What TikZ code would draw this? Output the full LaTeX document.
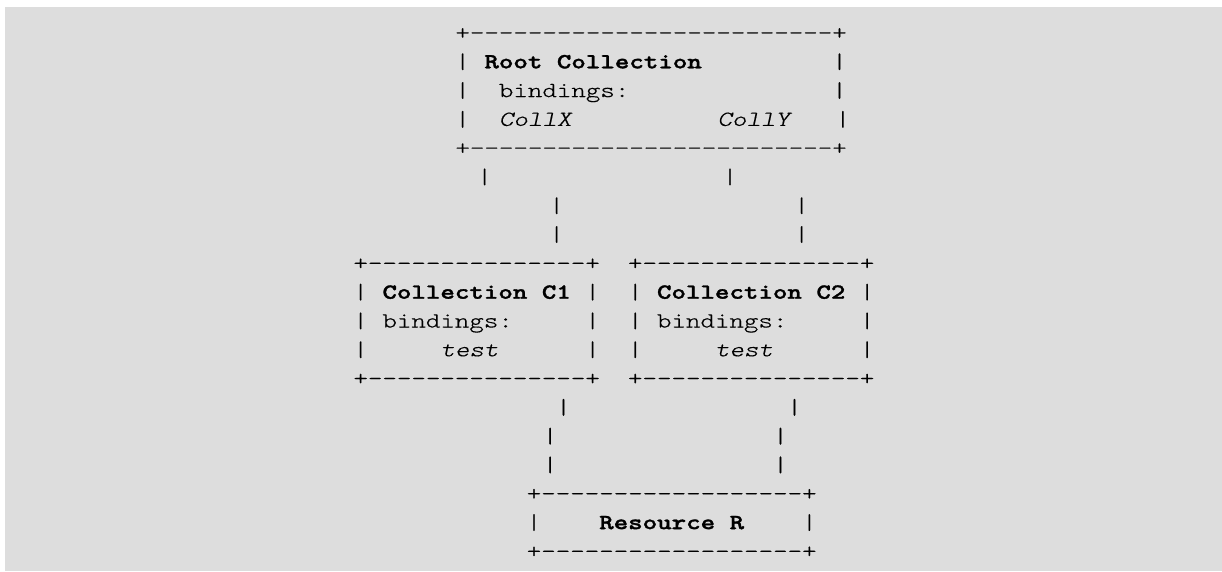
\documentclass[tikz,border=0pt]{standalone}
\usepackage{fontspec}
\setmonofont{lmmonolt10-regular.otf}[BoldFont=lmmonolt10-bold.otf, ItalicFont=lmmonolt10-oblique.otf, FakeStretch=1.284, UprightFeatures={FakeBold=0.4}, ItalicFeatures={FakeBold=0.4}, BoldFeatures={FakeBold=1.5}]
\definecolor{bg}{HTML}{DDDDDD}
\begin{document}
\begin{tikzpicture}[x=1pt,y=-1pt,
  asc/.style={font=\ttfamily\fontsize{21.5}{26}\selectfont, inner sep=0pt, outer sep=0pt, anchor=base west, text=black}]
\useasboundingbox (0,0) rectangle (1222,571);
\fill[white] (0,0) rectangle (1222,571);
\fill[bg] (5,7) rectangle (1222,571);
% Root collection
\node[asc] (rt) at (455.45,39.5) {+-------------------------+};
\node[asc] (r1) at (455.45,68.3) {|~\textbf{Root Collection}~~~~~~~~~|};
\node[asc] (r2) at (455.45,97.1) {|~~bindings:~~~~~~~~~~~~~~|};
\node[asc] (r3) at (455.45,125.9) {|~~\textit{CollX}~~~~~~~~~~\textit{CollY}~~~|};
\node[asc] (rb) at (455.45,154.7) {+-------------------------+};
% bars root -> collections
\node[asc] (b1) at (477.45,183.5) {|};
\node[asc] (b2) at (722.75,183.5) {|};
\node[asc] (b3) at (549.45,212.3) {|};
\node[asc] (b4) at (794.45,212.3) {|};
\node[asc] (b5) at (549.45,241.1) {|};
\node[asc] (b6) at (794.45,241.1) {|};
% Collection C1
\node[asc] (ct) at (353.45,269.9) {+---------------+};
\node[asc] (c1) at (353.45,298.7) {|~\textbf{Collection C1}~|};
\node[asc] (c2) at (353.45,327.5) {|~bindings:~~~~~|};
\node[asc] (c3) at (353.45,356.3) {|~~~~~\textit{test}~~~~~~|};
\node[asc] (cb) at (353.45,385.1) {+---------------+};
% Collection C2
\node[asc] (dt) at (628,269.9) {+---------------+};
\node[asc] (d1) at (628,298.7) {|~\textbf{Collection C2}~|};
\node[asc] (d2) at (628,327.5) {|~bindings:~~~~~|};
\node[asc] (d3) at (628,356.3) {|~~~~~\textit{test}~~~~~~|};
\node[asc] (db) at (628,385.1) {+---------------+};
% bars collections -> resource
\node[asc] (e1) at (556.25,413.9) {|};
\node[asc] (e2) at (787.25,413.9) {|};
\node[asc] (e3) at (542.95,442.7) {|};
\node[asc] (e4) at (773.25,442.7) {|};
\node[asc] (e5) at (542.95,471.5) {|};
\node[asc] (e6) at (773.25,471.5) {|};
% Resource R
\node[asc] (st) at (526.75,500.3) {+------------------+};
\node[asc] (s1) at (526.75,529.1) {|~~~~\textbf{Resource R}~~~~|};
\node[asc] (sb) at (526.75,557.9) {+------------------+};
\end{tikzpicture}
\end{document}
